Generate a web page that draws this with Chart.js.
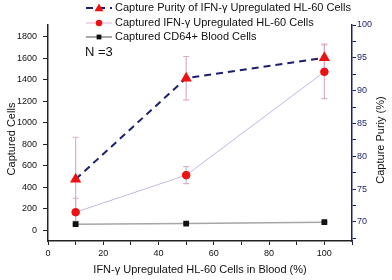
<!DOCTYPE html>
<html>
<head>
<meta charset="utf-8">
<script src="https://cdn.jsdelivr.net/npm/chart.js@4"></script>
<style>
  html,body{margin:0;padding:0;background:#fff}
  #wrap{width:392px;height:280px}
</style>
</head>
<body>
<div id="wrap"><canvas id="c" width="392" height="280"></canvas></div>
<script>
// data
const xVals = [10, 50, 100];
const purity = [76.5, 91.9, 95.0];
const purityErr = [6.4, 3.3, 2.1];
const hl60 = [168, 513, 1474];
const hl60Err = [130, 80, 250];
const cd64 = [56, 62, 75];
const cd64Err = [6, 6, 6];

const labels = [
  'Capture Purity of IFN-\u03b3 Upregulated HL-60 Cells',
  'Captured IFN-\u03b3 Upregulated HL-60 Cells',
  'Captured CD64+ Blood Cells'
];
const xTitle = 'IFN-\u03b3 Upregulated HL-60 Cells in Blood (%)';
const yTitle = 'Captured Cells';
const y2Title = 'Capture Puriy (%)';
const note = 'N =3';

const xTickVals = [0, 10, 20, 30, 40, 50, 60, 70, 80, 90, 100, 110];
const yTickVals = [0,100,200,300,400,500,600,700,800,900,1000,1100,1200,1300,1400,1500,1600,1700,1800,1900];
const y2TickVals = [67.5, 70, 72.5, 75, 77.5, 80, 82.5, 85, 87.5, 90, 92.5, 95, 97.5, 100];

const NAVY = '#1c1f6e';
const FONT = '"Liberation Sans", Arial, sans-serif';

function pts(ys){ return xVals.map((x,i)=>({x:x, y:ys[i]})); }
const errs = [purityErr, hl60Err, cd64Err];
const errColor = ['#d8b0cc', '#d8b0cc', '#9a9a9a'];

const errorBars = {
  id:'errorBars',
  beforeDatasetsDraw(chart){
    const ctx = chart.ctx;
    chart.data.datasets.forEach((ds,di)=>{
      const ys = chart.scales[ds.yAxisID];
      const xs = chart.scales.x;
      ctx.save();
      ctx.strokeStyle = errColor[di];
      ctx.lineWidth = 1.2;
      ds.data.forEach((p,i)=>{
        const px = xs.getPixelForValue(p.x);
        const top = ys.getPixelForValue(p.y + errs[di][i]);
        const bot = ys.getPixelForValue(p.y - errs[di][i]);
        ctx.beginPath();
        ctx.moveTo(px, top); ctx.lineTo(px, bot);
        ctx.moveTo(px-3, top); ctx.lineTo(px+3, top);
        ctx.moveTo(px-3, bot); ctx.lineTo(px+3, bot);
        ctx.stroke();
      });
      ctx.restore();
    });
  }
};

const legendLine = ['#1c1f6e', '#e2aed4', '#8a8a8a'];

const extras = {
  id:'extras',
  afterDraw(chart){
    const ctx = chart.ctx;
    ctx.save();
    // legend
    ctx.font = '11px ' + FONT;
    ctx.textBaseline = 'middle';
    const rows = [8, 23, 37];
    chart.data.datasets.forEach((ds,i)=>{
      const y = rows[i];
      ctx.strokeStyle = legendLine[i];
      ctx.lineWidth = ds.borderWidth;
      ctx.setLineDash(ds.borderDash || []);
      ctx.beginPath(); ctx.moveTo(86,y); ctx.lineTo(112,y); ctx.stroke();
      ctx.setLineDash([]);
      ctx.fillStyle = ds.pointBackgroundColor;
      const r = ds.pointRadius;
      ctx.beginPath();
      if(ds.pointStyle==='triangle'){
        ctx.moveTo(99, y-r); ctx.lineTo(99+r, y+r*0.7); ctx.lineTo(99-r, y+r*0.7); ctx.closePath();
      } else if(ds.pointStyle==='rect'){
        ctx.rect(99-r*0.8, y-r*0.8, r*1.6, r*1.6);
      } else {
        ctx.arc(99, y, r*0.85, 0, Math.PI*2);
      }
      ctx.fill();
      ctx.fillStyle = '#111';
      ctx.textAlign = 'left';
      ctx.fillText(ds.label, 115, y);
    });
    ctx.font = '13px ' + FONT;
    ctx.fillText(note, 85, 52);

    // axis titles
    ctx.font = '11px ' + FONT;
    ctx.textAlign = 'center';
    ctx.fillText(xTitle, 200, 270);
    ctx.save();
    ctx.translate(12, 139); ctx.rotate(-Math.PI/2);
    ctx.fillText(yTitle, 0, 0);
    ctx.restore();
    ctx.save();
    ctx.translate(381, 140); ctx.rotate(-Math.PI/2);
    ctx.fillText(y2Title, 0, 0);
    ctx.restore();
    ctx.restore();
  }
};

function setTicks(vals){ return scale=>{ scale.ticks = vals.map(v=>({value:v})); }; }

new Chart(document.getElementById('c'), {
  type:'line',
  data:{
    datasets:[
      { label:labels[0], data:pts(purity), yAxisID:'y2',
        borderColor:NAVY, borderWidth:2, borderDash:[7,5],
        pointStyle:'triangle', pointRadius:4.5, pointBackgroundColor:'#ee1111', pointBorderColor:'#ee1111', order:1 },
      { label:labels[1], data:pts(hl60), yAxisID:'y',
        borderColor:'#c6b6e2', borderWidth:1,
        pointStyle:'circle', pointRadius:3.8, pointBackgroundColor:'#ee1111', pointBorderColor:'#ee1111', order:2 },
      { label:labels[2], data:pts(cd64), yAxisID:'y',
        borderColor:'#a6a6a6', borderWidth:1.5,
        pointStyle:'rect', pointRadius:3, pointBackgroundColor:'#111', pointBorderColor:'#111', order:3 }
    ]
  },
  options:{
    responsive:false, animation:false,
    layout:{padding:{top:25, left:0, right:0, bottom:0}},
    plugins:{legend:{display:false}, tooltip:{enabled:false}},
    scales:{
      x:{ type:'linear', min:0, max:110,
        afterBuildTicks:setTicks(xTickVals),
        afterFit:s=>{ s.height = 39; },
        grid:{drawOnChartArea:false, tickLength:4, color:'#222'},
        border:{color:'#222', width:1.5},
        ticks:{padding:3, color:'#111', font:{family:FONT, size:9},
          callback:v=> (v%20===0 && v<=100) ? String(v) : ''} },
      y:{ position:'left', min:-100, max:1910,
        afterBuildTicks:setTicks(yTickVals),
        afterFit:s=>{ s.width = 48; },
        grid:{drawOnChartArea:false, tickLength:5, color:'#222'},
        border:{color:'#222', width:1.5},
        ticks:{padding:6, color:'#111', font:{family:FONT, size:9},
          callback:v=> (v%200===0) ? String(v) : ''} },
      y2:{ position:'right', min:67.1, max:100,
        afterBuildTicks:setTicks(y2TickVals),
        afterFit:s=>{ s.width = 40; },
        grid:{drawOnChartArea:false, tickLength:4, color:NAVY},
        border:{color:NAVY, width:1.5},
        ticks:{padding:1, color:NAVY, font:{family:FONT, size:9},
          callback:v=> (v%5===0) ? String(v) : ''} }
    }
  },
  plugins:[errorBars, extras]
});
</script>
</body>
</html>
